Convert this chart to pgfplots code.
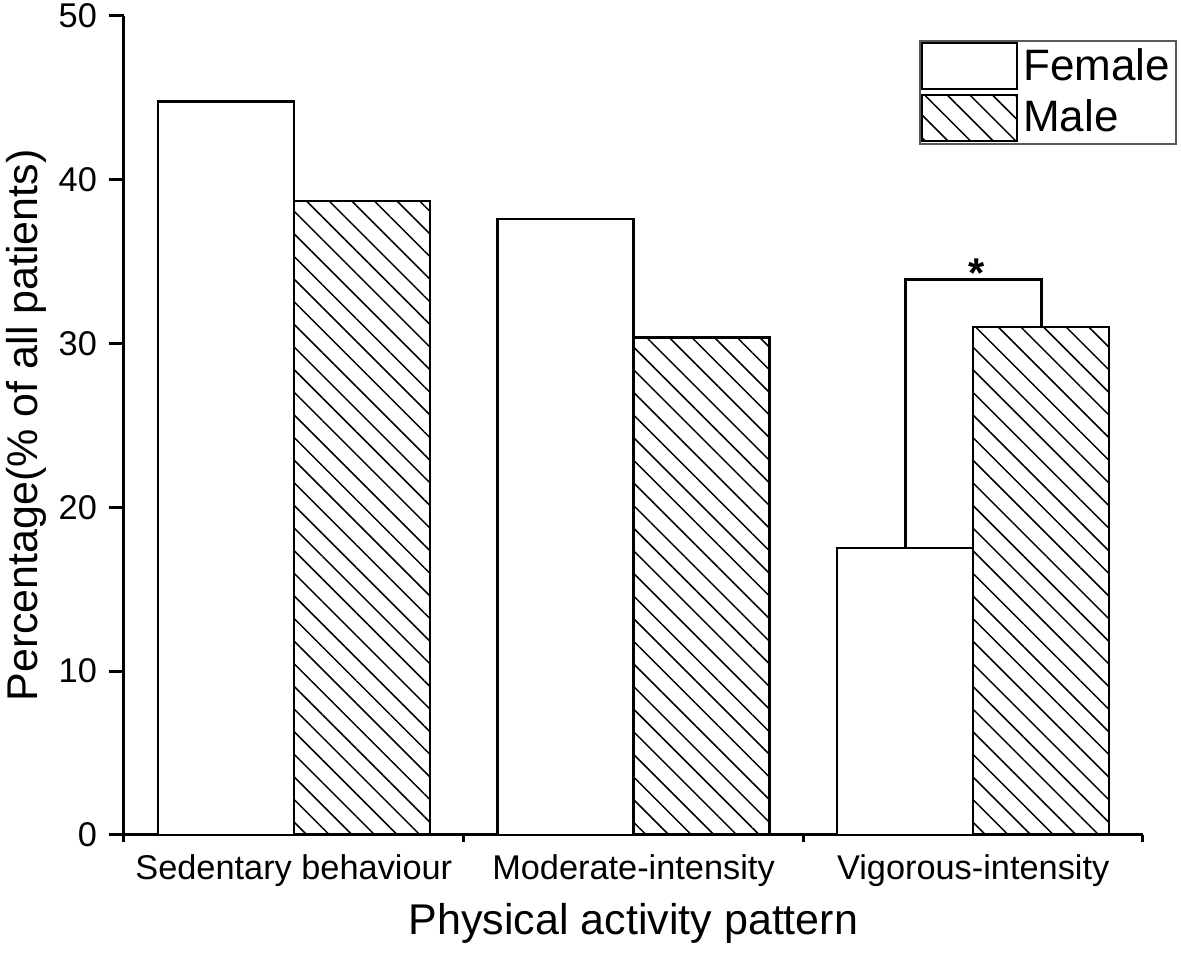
\documentclass[border=0pt]{standalone}
\usepackage{fontspec}
\setmainfont{Liberation Sans}
\usepackage{pgfplots}
\pgfplotsset{compat=1.18}
\usetikzlibrary{patterns.meta}
\pgfplotsset{
  mylegend/.style={legend image code/.code={\draw[##1, line width=0.6pt] (0pt,-6.8pt) rectangle (28.5pt,7pt);}},
}
\begin{document}
\begin{tikzpicture}
\begin{axis}[
  scale only axis, width=305.7pt, height=245.7pt,
  xmin=0, xmax=3, ymin=0, ymax=50,
  axis x line=bottom, axis y line=left,
  axis line style={-, line width=0.9pt},
  tick align=outside,
  major tick length=4.6pt, minor tick length=2.1pt,
  tick style={black, line width=0.9pt},
  ytick={0,10,...,50},
  xtick={0.5,1.5,2.5},
  xticklabels={Sedentary behaviour, Moderate-intensity, Vigorous-intensity},
  major x tick style={draw=none},
  minor xtick={0,1,2,3},
  tick label style={font=\fontsize{10.3}{12}\selectfont},
  xticklabel style={yshift=2.1pt},
  /pgf/number format/assume math mode=true,
  ylabel={Percentage(\% of all patients)},
  xlabel={Physical activity pattern},
  label style={font=\fontsize{12.9}{15}\selectfont},
  ylabel style={at={([xshift=-23.1pt]rel axis cs:0,0.5)}, anchor=south, inner sep=0pt},
  xlabel style={at={([yshift=-30pt]rel axis cs:0.5,0)}, anchor=base, inner sep=0pt},
  clip=false,
  legend style={at={(1.0334,0.9707)}, anchor=north east, draw=black!65, line width=0.5pt,
    inner xsep=0.4pt, inner ysep=0.5pt, row sep=1.1pt,
    font=\fontsize{13.2}{15}\selectfont, nodes={inner xsep=1.5pt, inner ysep=0.6pt}},
  legend cell align=left,
]
\addplot[ybar, bar width=0.4, bar shift=-0.2, draw=black, fill=white, line width=0.7pt, mylegend]
  coordinates {(0.5,44.77) (1.5,37.59) (2.5,17.50)};
\addlegendentry{Female}
\addplot[ybar, bar width=0.4, bar shift=0.2, draw=black, line width=0.7pt,
  pattern={Lines[angle=-45,distance=4.8pt,line width=0.45pt]}, mylegend]
  coordinates {(0.5,38.70) (1.5,30.37) (2.5,31.00)};
\addlegendentry{Male}
\addplot[black, line width=0.9pt, mark=none, forget plot]
  coordinates {(2.3,17.50) (2.3,33.9) (2.7,33.9) (2.7,31.00)};
\node[anchor=base, inner sep=0pt, font=\fontsize{12.5}{14}\selectfont\bfseries] at (axis cs:2.51,33.45) {*};
\coordinate (bbsw) at (rel axis cs:-0.12169,-0.15018);
\coordinate (bbne) at (rel axis cs:1.03729,1.01954);
\end{axis}
\pgfresetboundingbox
\path (bbsw) rectangle (bbne);
\end{tikzpicture}
\end{document}
